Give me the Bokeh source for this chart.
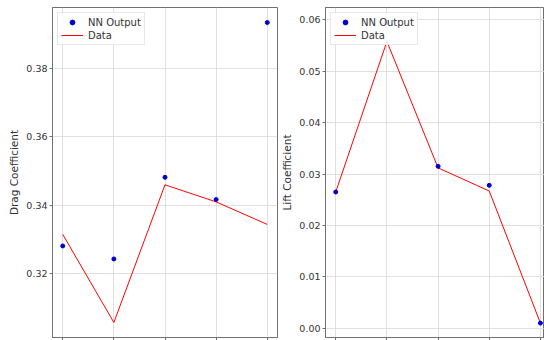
from bokeh.plotting import figure
from bokeh.layouts import row
from bokeh.models import FixedTicker, Legend, LegendItem, NumeralTickFormatter, CustomJSTickFormatter
from bokeh.embed import file_html
from bokeh.resources import INLINE

x = [0, 1, 2, 3, 4]
drag_nn = [0.3281, 0.3243, 0.3482, 0.3417, 0.3935]
drag_data = [0.3315, 0.3057, 0.3460, 0.3410, 0.3344]
lift_nn = [0.0265, 0.0595, 0.0315, 0.0278, 0.0010]
lift_data = [0.0265, 0.0558, 0.0312, 0.0267, 0.0010]

drag_ticks = [0.32, 0.34, 0.36, 0.38]
lift_ticks = [0.00, 0.01, 0.02, 0.03, 0.04, 0.05, 0.06]

FONT = "DejaVu Sans"


def make(width, border_left, border_right, x_range, y_range, yticks, ylabel, nn, data):
    p = figure(width=width, height=340, x_range=x_range, y_range=y_range,
               output_backend="svg", toolbar_location=None,
               min_border_left=border_left, min_border_right=border_right,
               min_border_top=7, min_border_bottom=3)
    p.background_fill_color = "white"
    p.border_fill_color = "white"
    p.outline_line_color = "#707070"
    p.outline_line_width = 1
    for g in (p.xgrid, p.ygrid):
        g.grid_line_color = "#d8d8d8"
        g.grid_line_width = 0.8
    p.xaxis.ticker = FixedTicker(ticks=x)
    p.xaxis.formatter = CustomJSTickFormatter(code="return '';")
    p.yaxis.ticker = FixedTicker(ticks=yticks)
    p.yaxis.formatter = NumeralTickFormatter(format="0.00")
    for ax in (p.xaxis, p.yaxis):
        ax.axis_line_color = "#707070"
        ax.major_tick_line_color = "#707070"
        ax.major_tick_out = 3
        ax.major_tick_in = 0
        ax.minor_tick_line_color = None
        ax.major_label_text_font = FONT
        ax.major_label_text_font_size = "9.5px"
        ax.major_label_text_color = "#333333"
    p.xaxis.major_label_standoff = 0
    p.yaxis.major_label_standoff = 2
    p.yaxis.axis_label = ylabel
    p.yaxis.axis_label_text_font = FONT
    p.yaxis.axis_label_text_font_size = "10.5px"
    p.yaxis.axis_label_text_font_style = "normal"
    p.yaxis.axis_label_text_color = "#333333"
    p.yaxis.axis_label_standoff = 3

    r_line = p.line(x, data, line_color="red", line_width=1)
    r_pts = p.scatter(x, nn, size=4, fill_color="#0000cc", line_color="#0000cc")

    legend = Legend(items=[LegendItem(label="NN Output", renderers=[r_pts]),
                           LegendItem(label="Data", renderers=[r_line])],
                    location="top_left")
    legend.label_text_font = FONT
    legend.label_text_font_size = "10px"
    legend.label_text_color = "#333333"
    legend.label_height = 12
    legend.glyph_height = 12
    legend.glyph_width = 22
    legend.spacing = 1
    legend.padding = 3
    legend.margin = 5
    legend.border_line_color = "#d0d0d0"
    legend.background_fill_alpha = 0.85
    p.add_layout(legend)
    return p


p1 = make(278, 52, 1, (-0.2, 4.2), (0.3013, 0.3979), drag_ticks, "Drag Coefficient", drag_nn, drag_data)
p2 = make(266, 46, 0, (-0.2, 4.08), (-0.0018, 0.0624), lift_ticks, "Lift Coefficient", lift_nn, lift_data)

layout = row(p1, p2)
open("out.html", "w").write(file_html(layout, INLINE))
